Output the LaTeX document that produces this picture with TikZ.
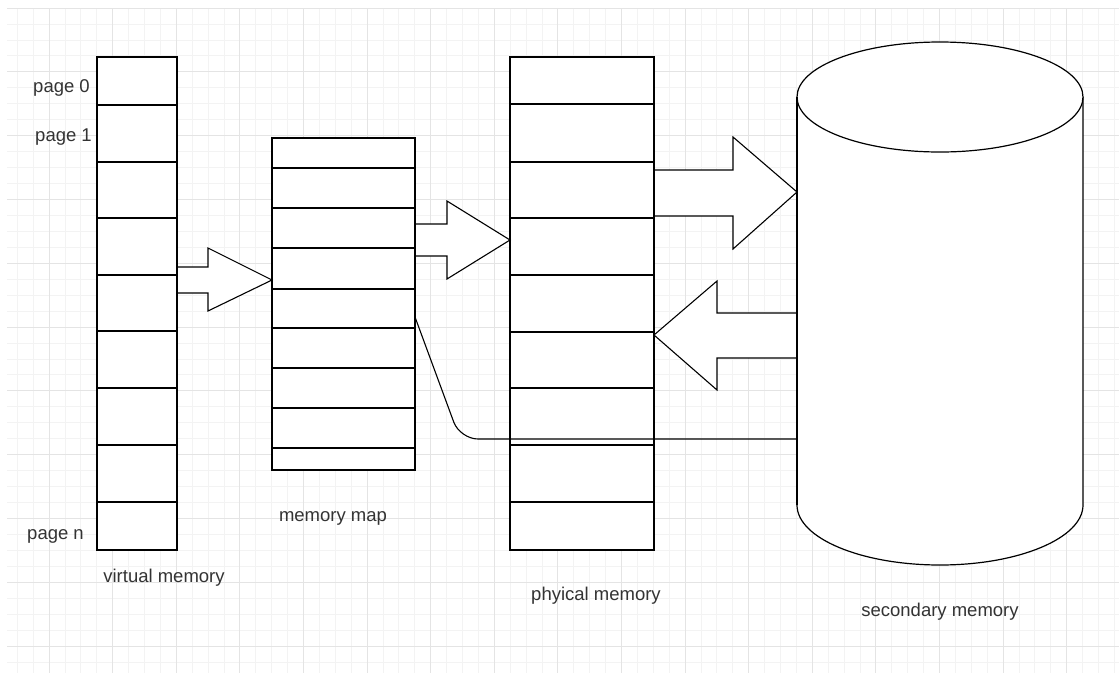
\documentclass[tikz,border=0pt]{standalone}
\usepackage{fontspec}
\setmainfont{Liberation Sans}
\definecolor{gmajor}{HTML}{E4E4E4}
\definecolor{gminor}{HTML}{F3F3F3}
\definecolor{txt}{HTML}{333333}
\tikzset{
  col/.style={draw=black, fill=white, line width=1.2pt, inner sep=0pt, outer sep=0pt},
  rowline/.style={draw=black, line width=1.2pt},
  edge/.style={draw=black, line width=1.2pt},
  blockarrow/.style={draw=black, fill=white, line width=1.1pt, line join=miter},
  link/.style={draw=black, line width=1.1pt, rounded corners=18pt},
  lbl/.style={font=\fontsize{18.5}{22}\selectfont, text=txt, inner sep=0pt},
  gminorline/.style={draw=gminor, line width=0.8pt},
  gmajorline/.style={draw=gmajor, line width=1pt}
}
\begin{document}
\begin{tikzpicture}[x=1pt,y=-1pt]
\useasboundingbox (0,0) rectangle (1119,673);
\fill[white] (0,0) rectangle (1119,673);
% grid
\foreach \j in {-2,...,67} {\draw[gminorline] ({49+15.9*\j},8) -- ({49+15.9*\j},673);}
\foreach \j in {0,...,41} {\draw[gminorline] (7,{8+15.95*\j}) -- (1119,{8+15.95*\j});}
\foreach \k in {0,...,16} {\draw[gmajorline] ({49+63.6*\k},8) -- ({49+63.6*\k},673);}
\foreach \k in {0,...,10} {\draw[gmajorline] (7,{8+63.8*\k}) -- (1119,{8+63.8*\k});}

% virtual memory
\node[col, minimum width=80pt, minimum height=493pt] (vm) at (137,303.5) {};
\foreach \y in {105,162,218,275,331,388,445,502} {\draw[rowline] (vm.west |- 0,\y) -- (vm.east |- 0,\y);}
% memory map
\node[col, minimum width=143pt, minimum height=332pt] (mm) at (343.5,304) {};
\foreach \y in {168,208,248,289,328,368,408,448} {\draw[rowline] (mm.west |- 0,\y) -- (mm.east |- 0,\y);}
% physical memory
\node[col, minimum width=144pt, minimum height=493pt] (pm) at (582,303.5) {};
\foreach \y in {104,162,218,275,332,388,445,502} {\draw[rowline] (pm.west |- 0,\y) -- (pm.east |- 0,\y);}

% secondary memory (cylinder)
\filldraw[draw=black, fill=white, line width=1.2pt] (797,97) -- (797,505)
  .. controls (797,538.1) and (861,565) .. (940,565)
  .. controls (1019,565) and (1083,538.1) .. (1083,505) -- (1083,97);
\filldraw[draw=black, fill=white, line width=1.2pt] (940,97) ellipse [x radius=143, y radius=55];
\node[inner sep=0pt, outer sep=0pt, minimum width=286pt, minimum height=408pt] (sec) at (940,301) {};

% block arrows
\filldraw[blockarrow] (vm.east |- 0,267) -- (208,267) -- (208,248) -- (mm.west |- 0,280) -- (208,311) -- (208,293) -- (vm.east |- 0,293);
\filldraw[blockarrow] (mm.east |- 0,224) -- (447,224) -- (447,201) -- (pm.west |- 0,240) -- (447,279) -- (447,256) -- (mm.east |- 0,256);
\filldraw[blockarrow] (pm.east |- 0,170) -- (733,170) -- (733,137) -- (sec.west |- 0,192) -- (733,249) -- (733,216) -- (pm.east |- 0,216);
\filldraw[blockarrow] (sec.west |- 0,313) -- (717,313) -- (717,281) -- (pm.east |- 0,335) -- (717,390) -- (717,358) -- (sec.west |- 0,358);

% restore the edges that the arrow fills cover
\draw[edge] (vm.north east) -- (vm.south east);
\draw[edge] (mm.north west) -- (mm.south west);
\draw[edge] (mm.north east) -- (mm.south east);
\draw[edge] (pm.north west) -- (pm.south west);
\draw[edge] (pm.north east) -- (pm.south east);
\draw[edge] (sec.north west) -- (sec.south west);

% link from memory map to secondary memory
\coordinate (bend) at (460,439);
\draw[link] (mm.east |- 0,317) -- (bend) -- (sec.west |- bend);

% labels
\node[lbl, anchor=east] (p0) at (90,88) {page 0};
\node[lbl, anchor=east] (p1) at (92,137) {page 1};
\node[lbl, anchor=east] (pn) at (84,536) {page n};
\node[lbl] (vml) at (164,578) {virtual memory};
\node[lbl] (mml) at (333,518) {memory map};
\node[lbl] (pml) at (596,596) {phyical memory};
\node[lbl] (sml) at (940,612) {secondary memory};
\end{tikzpicture}
\end{document}
